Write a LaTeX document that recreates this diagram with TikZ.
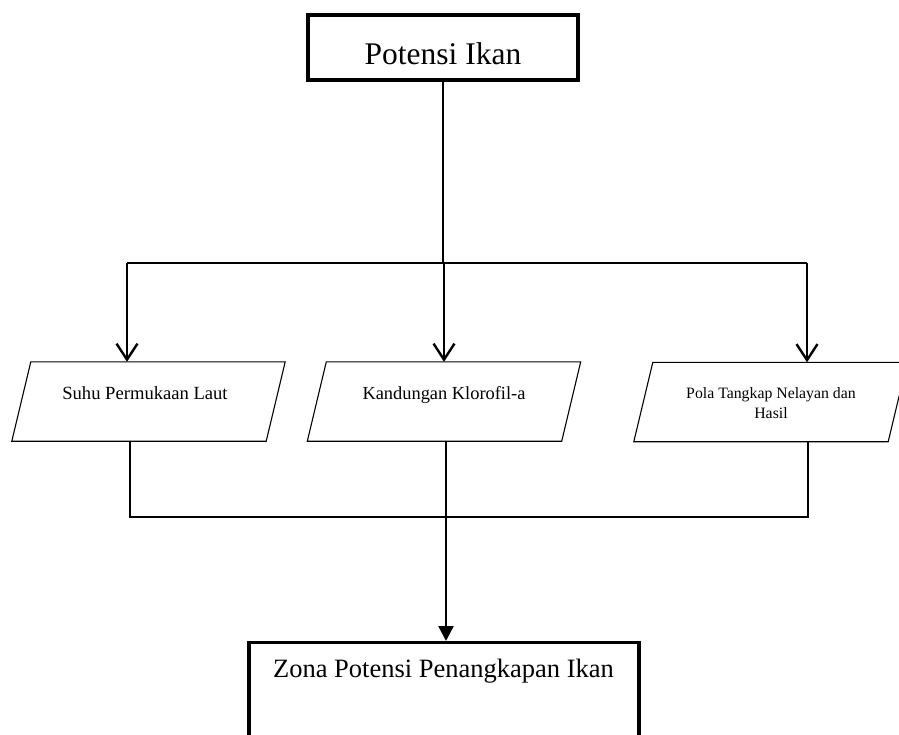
\documentclass[tikz,border=0pt]{standalone}
\usepackage{fontspec}
\setmainfont{Liberation Serif}
\usetikzlibrary{arrows.meta}
\begin{document}
\begin{tikzpicture}[x=1pt,y=1pt,
  bigbox/.style={draw,line width=3.2pt,rectangle,inner sep=0pt},
  para/.style={rectangle,minimum width=254pt,minimum height=79pt,inner sep=0pt},
  paraline/.style={line width=1.1pt,line join=miter},
  link/.style={line width=1.8pt},
  openarrow/.style={line width=2.4pt,-{Straight Barb[length=16pt,width=21pt,line width=2.4pt]}},
  fillarrow/.style={line width=2.4pt,-{Triangle[length=15pt,width=15pt]}},
  txt/.style={inner sep=0pt,align=center}]
\useasboundingbox (0,0) rectangle (899,-735);
\clip (0,0) rectangle (899,-735);
% top box
\node[bigbox,minimum width=270pt,minimum height=65pt] (top) at (443,-47.5) {};
\node[txt,anchor=base,font=\fontsize{31.5}{36}\selectfont] (toptxt) at (443,-65) {Potensi Ikan};
% parallelograms
\node[para] (p1) at (148.5,-401.5) {};
\node[para] (p2) at (444,-401.5) {};
\node[para] (p3) at (770.5,-402) {};
\foreach \p in {p1,p2,p3}{
  \draw[paraline] ([xshift=9.5pt]\p.north west) -- ([xshift=9.5pt]\p.north east)
    -- ([xshift=-9.5pt]\p.south east) -- ([xshift=-9.5pt]\p.south west) -- cycle;
}
\node[txt,anchor=base,font=\fontsize{18.6}{22}\selectfont] (t1) at (145,-399) {Suhu Permukaan Laut};
\node[txt,anchor=base,font=\fontsize{18.4}{22}\selectfont] (t2) at (444,-399) {Kandungan Klorofil-a};
\node[txt,font=\fontsize{15.8}{20.5}\selectfont] (t3) at (771,-403) {Pola Tangkap Nelayan dan\\Hasil};
% bottom box
\node[bigbox,minimum width=390pt,minimum height=160pt,anchor=north] (bot) at (444,-641) {};
\node[txt,anchor=base,font=\fontsize{26.5}{30}\selectfont] (bottxt) at (443.5,-677) {Zona Potensi Penangkapan Ikan};
% distribution coordinates
\coordinate (hub) at (443,-263);
\coordinate (a1) at (127,-263);
\coordinate (a2) at (444,-263);
\coordinate (a3) at (807,-263);
\coordinate (m1) at (130,-517);
\coordinate (m2) at (446,-517);
\coordinate (m3) at (808,-517);
% connectors
\draw[link] (top.south) -- (hub);
\draw[link] (a1) -- (a3);
\draw[openarrow] (a1) -- (a1 |- p1.north);
\draw[openarrow] (a2) -- (a2 |- p2.north);
\draw[openarrow] (a3) -- (a3 |- p3.north);
\draw[link] (m1 |- p1.south) -- (m1) -- (m3) -- (m3 |- p3.south);
\draw[fillarrow] (m2 |- p2.south) -- (m2 |- bot.north);
\end{tikzpicture}
\end{document}
